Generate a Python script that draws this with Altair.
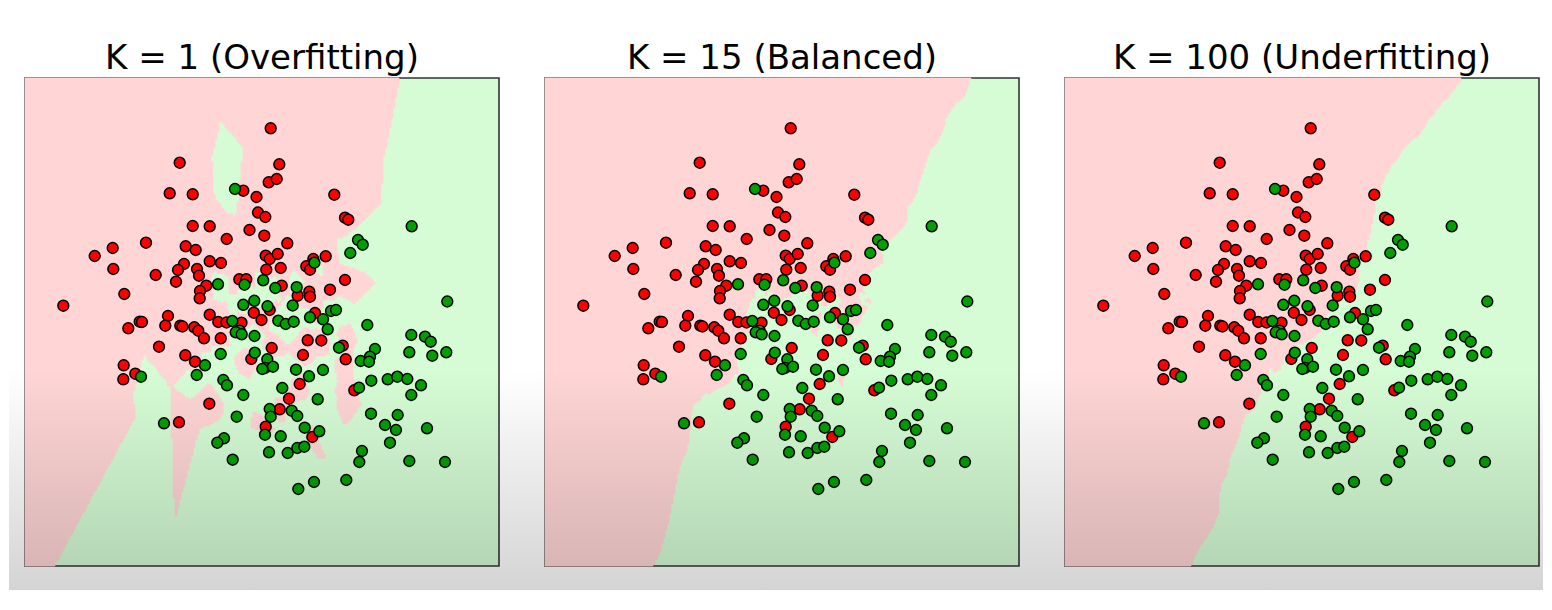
import numpy as np
import pandas as pd
import altair as alt

red_x = [154.7, 144.7, 167.7, 218.3, 231.5, 233.0, 167.7, 184.7, 224.5, 201.7,
         121.0, 87.7, 69.7, 160.7, 170.7, 159.0, 184.7, 196.0, 88.3, 153.0,
         172.0, 130.7, 174.0, 151.0, 181.3, 214.3, 221.3, 175.0, 174.7, 99.3,
         38.3, 245.7, 254.3, 243.7, 251.7, 309.3, 240.3, 320.0, 323.3, 239.3,
         262.3, 240.7, 244.7, 252.7, 300.7, 288.3, 281.3, 285.0, 241.3, 255.7,
         320.0, 256.7, 272.7, 284.3, 285.0, 305.0, 290.0, 103.3, 114.7, 117.0,
         143.0, 140.3, 155.3, 157.5, 169.3, 173.3, 179.0, 184.7, 193.3, 201.5,
         216.5, 195.7, 228.8, 134.0, 160.3, 170.0, 226.3, 98.7, 110.3, 98.3,
         184.3, 154.0, 236.5, 244.7, 282.7, 296.3, 246.7, 278.0, 317.7, 320.7,
         274.7, 329.3, 264.0, 254.7, 240.7, 287.3]
red_y = [403.3, 372.7, 371.7, 375.3, 369.0, 353.5, 340.0, 339.7, 336.0, 327.0,
         323.3, 318.0, 310.0, 319.7, 316.0, 302.0, 304.7, 303.0, 297.0, 296.0,
         297.0, 291.0, 290.3, 284.3, 280.3, 286.7, 286.7, 275.0, 267.7, 272.0,
         260.3, 437.7, 401.7, 383.7, 387.0, 371.3, 349.0, 348.3, 346.3, 330.3,
         322.7, 310.3, 307.0, 312.0, 309.7, 307.0, 299.7, 296.3, 296.3, 298.0,
         286.0, 280.3, 270.3, 274.3, 269.3, 276.3, 253.0, 237.7, 244.3, 244.0,
         250.0, 240.3, 240.3, 239.5, 238.7, 235.3, 227.7, 251.3, 244.0, 243.5,
         243.3, 227.7, 253.3, 219.3, 210.7, 204.3, 207.0, 200.7, 192.3, 186.7,
         162.3, 143.7, 246.0, 256.0, 225.7, 225.5, 218.0, 211.0, 220.3, 206.7,
         182.0, 175.7, 167.3, 156.7, 139.3, 129.0]

green_x = [210.0, 193.0, 219.5, 218.3, 229.3, 238.2, 386.7, 333.0, 337.7, 325.3,
           289.4, 250.3, 271.7, 242.5, 267.7, 306.0, 311.0, 422.3, 207.3, 214.7,
           210.7, 216.7, 229.5, 180.0, 195.7, 229.8, 116.0, 171.7, 198.3, 202.0,
           218.3, 211.7, 139.0, 199.0, 192.3, 207.7, 253.3, 260.7, 268.7, 285.0,
           298.0, 302.7, 342.3, 242.3, 240.0, 248.0, 237.3, 314.0, 350.0, 345.0,
           335.7, 344.0, 386.3, 400.0, 405.7, 384.3, 407.3, 421.3, 271.0, 284.0,
           298.0, 257.3, 346.3, 362.7, 372.3, 382.3, 396.0, 386.3, 334.0, 292.7,
           244.7, 266.7, 272.3, 245.7, 346.0, 372.7, 360.0, 371.0, 402.0, 240.0,
           255.7, 279.7, 294.3, 365.0, 272.3, 279.3, 262.7, 244.0, 337.0, 334.3,
           384.3, 420.0, 289.0, 273.3, 321.3]
green_y = [377.0, 281.7, 281.3, 261.2, 265.2, 285.7, 339.7, 326.0, 321.3, 313.0,
           303.3, 278.0, 278.8, 259.7, 260.5, 255.0, 256.0, 264.5, 245.0, 235.3,
           233.7, 231.7, 230.0, 200.7, 212.0, 213.3, 189.3, 191.0, 186.0, 180.7,
           171.0, 149.3, 142.7, 127.7, 123.3, 106.3, 245.3, 242.0, 244.3, 248.7,
           246.7, 236.7, 241.0, 206.7, 198.0, 199.3, 197.0, 218.3, 217.0, 209.3,
           205.0, 204.3, 231.0, 229.3, 224.3, 213.7, 210.3, 213.7, 196.3, 189.7,
           196.0, 178.0, 185.3, 186.7, 189.3, 187.0, 180.7, 171.0, 178.3, 166.7,
           157.0, 155.3, 150.0, 149.3, 152.3, 151.0, 141.0, 136.0, 137.7, 131.3,
           129.7, 138.3, 134.7, 123.3, 118.0, 119.3, 113.0, 113.7, 115.0, 104.0,
           105.0, 104.0, 84.0, 77.0, 86.0]

k_values = [1, 15, 100]
titles = ["K = 1 (Overfitting)", "K = 15 (Balanced)", "K = 100 (Underfitting)"]

X_MAX, Y_MAX = 474, 488
UNIT_X, UNIT_Y = 45.0, 63.5   # panel units per feature unit

PINK, LIGHT_GREEN = "#FFD5D5", "#D5FCD5"
SPACING = 46

points = pd.DataFrame({
    "x": red_x + green_x,
    "y": red_y + green_y,
    "label": ["red"] * len(red_x) + ["green"] * len(green_x),
})

fx = points["x"].to_numpy() / UNIT_X
fy = points["y"].to_numpy() / UNIT_Y
is_red = (points["label"] == "red").to_numpy().astype(int)


def red_runs(k, step=2):
    """KNN prediction on a mesh, returned as horizontal runs of the red class."""
    xs = np.arange(0, X_MAX, step)
    ys = np.arange(0, Y_MAX, step)
    cx = (xs + step / 2) / UNIT_X
    rows = []
    for y0 in ys:
        cy = (y0 + step / 2) / UNIT_Y
        d2 = (cx[:, None] - fx[None, :]) ** 2 + (cy - fy[None, :]) ** 2
        near = np.argpartition(d2, k - 1, axis=1)[:, :k]
        red = (is_red[near].sum(axis=1) * 2 >= k).astype(int)
        edges = np.diff(np.concatenate([[0], red, [0]]))
        for s, e in zip(np.where(edges == 1)[0], np.where(edges == -1)[0]):
            rows.append({"x0": xs[s], "x1": xs[e - 1] + step, "y0": y0, "y1": y0 + step})
    return pd.DataFrame(rows)


xscale = alt.Scale(domain=[0, X_MAX], nice=False, zero=False)
yscale = alt.Scale(domain=[0, Y_MAX], nice=False, zero=False)

# the screenshot darkens towards the bottom; mimic it with a soft overlay
SHADE_BELOW = 24
shade = alt.LinearGradient(
    gradient="linear", x1=0, x2=0, y1=0, y2=1,
    stops=[alt.GradientStop(color="rgba(0,0,0,0)", offset=0),
           alt.GradientStop(color="rgba(0,0,0,0)", offset=0.57),
           alt.GradientStop(color="rgba(0,0,0,0.17)", offset=1)],
)
shade_left = [16, SPACING / 2, SPACING / 2]
shade_right = [SPACING / 2, SPACING / 2, 4]

panels = []
for i, (k, title) in enumerate(zip(k_values, titles)):
    region = alt.Chart(red_runs(k)).mark_rect(
        color=PINK, stroke=PINK, strokeWidth=0.8
    ).encode(
        x=alt.X("x0:Q", scale=xscale, axis=None),
        x2="x1",
        y=alt.Y("y0:Q", scale=yscale, axis=None),
        y2="y1",
    )
    dots = alt.Chart(points).mark_circle(
        size=118, opacity=1, stroke="black", strokeWidth=1.5
    ).encode(
        x=alt.X("x:Q", scale=xscale, axis=None),
        y=alt.Y("y:Q", scale=yscale, axis=None),
        color=alt.Color("label:N", legend=None,
                        scale=alt.Scale(domain=["red", "green"], range=["#FF0000", "#00A000"])),
    )
    overlay = alt.Chart(pd.DataFrame({"k": [k]})).mark_rect(color=shade).encode(
        x=alt.value(-shade_left[i]), x2=alt.value(X_MAX + shade_right[i]),
        y=alt.value(0), y2=alt.value(Y_MAX + SHADE_BELOW),
    )
    panels.append(
        alt.layer(region, dots, overlay).properties(
            width=X_MAX, height=Y_MAX,
            title=alt.TitleParams(title, fontSize=34, font="DejaVu Sans", fontWeight="normal",
                                  color="black", anchor="middle", offset=2),
        )
    )

chart = alt.hconcat(*panels, spacing=SPACING, bounds="flush").properties(
    padding={"left": 0, "top": 32, "right": 0, "bottom": 0}
).configure_view(
    fill=LIGHT_GREEN, stroke="#333333", strokeWidth=1.6
)

chart.save("out.html", embed_options={"renderer": "svg", "actions": False})
